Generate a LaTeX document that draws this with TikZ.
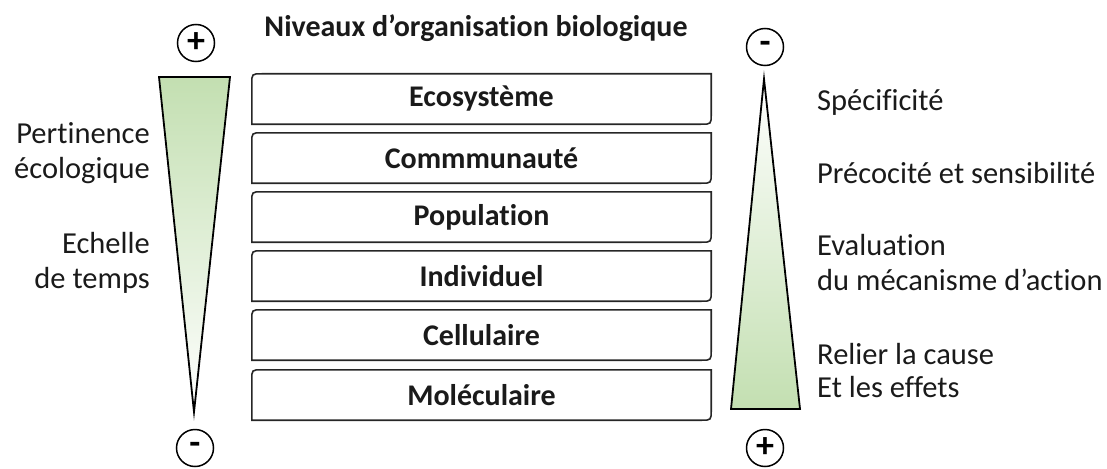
\documentclass[tikz,border=0pt]{standalone}
\usepackage{fontspec}
\setmainfont{Carlito}[Ligatures=CommonOff]
\usetikzlibrary{calc}
\definecolor{txt}{HTML}{1A1A1A}
\definecolor{lgreen}{HTML}{C3DFB1}
\tikzset{
  lvl/.style={minimum width=459pt, minimum height=50pt, inner sep=0pt, font=\fontsize{30}{34}\selectfont\bfseries, text=txt},
  boxline/.style={draw=black!85, line width=1.6pt},
  side/.style={font=\fontsize{30.5}{35}\selectfont, text=txt, inner sep=0pt},
  sign/.style={circle, draw=black, line width=1.5pt, minimum size=37pt, inner sep=0pt, font=\fontsize{36}{36}\selectfont\bfseries},
  tri/.style={draw=black, line width=1.8pt, line join=miter}
}
\begin{document}
\begin{tikzpicture}[x=1pt,y=-1pt]
\useasboundingbox (0,0) rectangle (1107,468);
% title
\node[font=\fontsize{30}{34}\selectfont\bfseries, text=txt] (title) at (476,28) {Niveaux d’organisation biologique};
% triangles
\path[tri, top color=lgreen, bottom color=white] (159,77) -- (230,77) -- (194,412) -- cycle;
\path[tri, bottom color=lgreen, top color=white] (764,79) -- (800,409) -- (731,409) -- cycle;
% signs
\node[sign] (lp) at (196,43) {+};
\node[sign] (lm) at (195,448) {-};
\node[sign] (rm) at (765,47) {-};
\node[sign] (rp) at (765,448) {+};
% boxes
\node[lvl] (b1) at (481.5,99) {Ecosystème};
\node[lvl] (b2) at (481.5,158) {Commmunauté};
\node[lvl] (b3) at (481.5,217) {Population};
\node[lvl] (b4) at (481.5,276) {Individuel};
\node[lvl] (b5) at (481.5,335) {Cellulaire};
\node[lvl] (b6) at (481.5,395) {Moléculaire};
\foreach \b in {b1,b2,b3,b4,b5,b6}{
  \draw[boxline] (\b.south west) -- ($(\b.north west)+(0,10)$) .. controls (\b.north west) .. ($(\b.north west)+(10,0)$)
    -- (\b.north east) -- ($(\b.south east)+(0,-10)$) .. controls (\b.south east) .. ($(\b.south east)+(-10,0)$) -- cycle;
}
% left texts
\node[side, anchor=east, align=right] (pert) at (150,153) {Pertinence\\écologique};
\node[side, anchor=east, align=right] (ech) at (150,263) {Echelle\\de temps};
% right texts
\node[side, anchor=west, align=left] (spec) at (817,102) {Spécificité};
\node[side, anchor=west, align=left] (prec) at (817,173) {Précocité et sensibilité};
\node[side, anchor=west, align=left] (eval) at (817,263) {Evaluation\\du mécanisme d’action};
\node[side, anchor=west, align=left, font=\fontsize{30.5}{33}\selectfont] (rel) at (817,371) {Relier la cause\\Et les effets};
\end{tikzpicture}
\end{document}
